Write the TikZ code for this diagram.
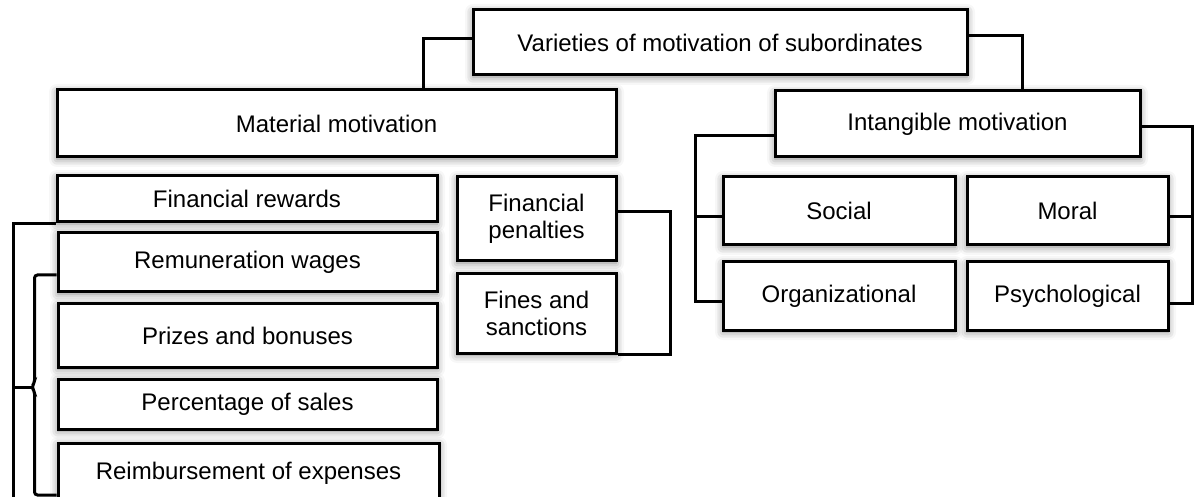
\documentclass[tikz,border=0pt]{standalone}
\usepackage{fontspec}
\setmainfont{Liberation Sans}
\usetikzlibrary{shadows.blur}
\begin{document}
\begin{tikzpicture}[x=0.5pt, y=-0.5pt,
  box/.style={draw, line width=1.5pt, fill=white, inner sep=2pt, align=center,
    font=\fontsize{12}{13.5}\selectfont,
    blur shadow={shadow xshift=0pt, shadow yshift=-1pt, shadow blur radius=4pt, shadow opacity=50}},
  link/.style={draw, line width=1.5pt}]
\useasboundingbox (0,0) rectangle (1194,497);
\clip (0,0) rectangle (1194,497);
\coordinate (lowend) at (13,505);
\coordinate (tip) at (33,387);
% top level
\node[box, minimum width=247pt, minimum height=32.5pt] (top) at (720,42.5) {Varieties of motivation of subordinates};
\node[box, minimum width=279.5pt, minimum height=33.5pt] (mat) at (336.5,123.5) {Material motivation};
\node[box, minimum width=182.5pt, minimum height=33pt] (intang) at (957.5,124) {Intangible motivation};
\draw[link] ([yshift=1.75pt]top.west) -| ([xshift=43.25pt]mat.north);
\draw[link] ([yshift=3.25pt]top.east) -| ([xshift=32.25pt]intang.north);
% intangible side
\node[box, minimum width=116pt, minimum height=34pt] (social) at (839,211) {Social};
\node[box, minimum width=100.5pt, minimum height=34pt] (moral) at (1067.5,211) {Moral};
\node[box, minimum width=116pt, minimum height=34pt] (org) at (839,296) {Organizational};
\node[box, minimum width=100.5pt, minimum height=34pt] (psych) at (1067.5,296) {Psychological};
\draw[link] ([yshift=-6pt]intang.west) -| ([xshift=-13pt,yshift=-3pt]org.west) -- ([yshift=-3pt]org.west);
\draw[link] ([yshift=-3pt]social.west) -- ++(-13pt,0);
\draw[link] ([yshift=-1.5pt]intang.east) -| ([xshift=11.5pt,yshift=-4pt]psych.east) -- ([yshift=-4pt]psych.east);
\draw[link] ([yshift=-3pt]moral.east) -- ++(11.5pt,0);
% penalties
\node[box, minimum width=79.5pt, minimum height=42pt] (finpen) at (536.5,219) {Financial\\penalties};
\node[box, minimum width=79.5pt, minimum height=39.5pt] (fines) at (536.5,313.5) {Fines and\\sanctions};
\draw[link] ([yshift=3.5pt]finpen.east) -| ([xshift=26.5pt]fines.south east) -- (fines.south east);
% rewards
\node[box, minimum width=190pt, minimum height=23pt] (finrew) at (247,199) {Financial rewards};
\node[box, minimum width=189.5pt, minimum height=29.5pt] (remun) at (247.5,262.5) {Remuneration wages};
\node[box, minimum width=189.5pt, minimum height=31.5pt] (prizes) at (247.5,335.5) {Prizes and bonuses};
\node[box, minimum width=189.5pt, minimum height=25pt] (percent) at (247.5,404) {Percentage of sales};
\node[box, minimum width=190.5pt, minimum height=30pt] (reimb) at (248.5,473) {Reimbursement of expenses};
\draw[link] (finrew.south west) -| (lowend);
\draw[link, rounded corners=1.5pt] ([yshift=-6.25pt]remun.west) -- ++(-11pt,0) -- ++(0,-54pt)
  -- ++(-1.5pt,-2pt) -- ++(1.5pt,-2pt) -- ++(0,-52pt) -- ++(11pt,0);
\draw[link] (tip) -- (lowend |- tip);
\end{tikzpicture}
\end{document}
